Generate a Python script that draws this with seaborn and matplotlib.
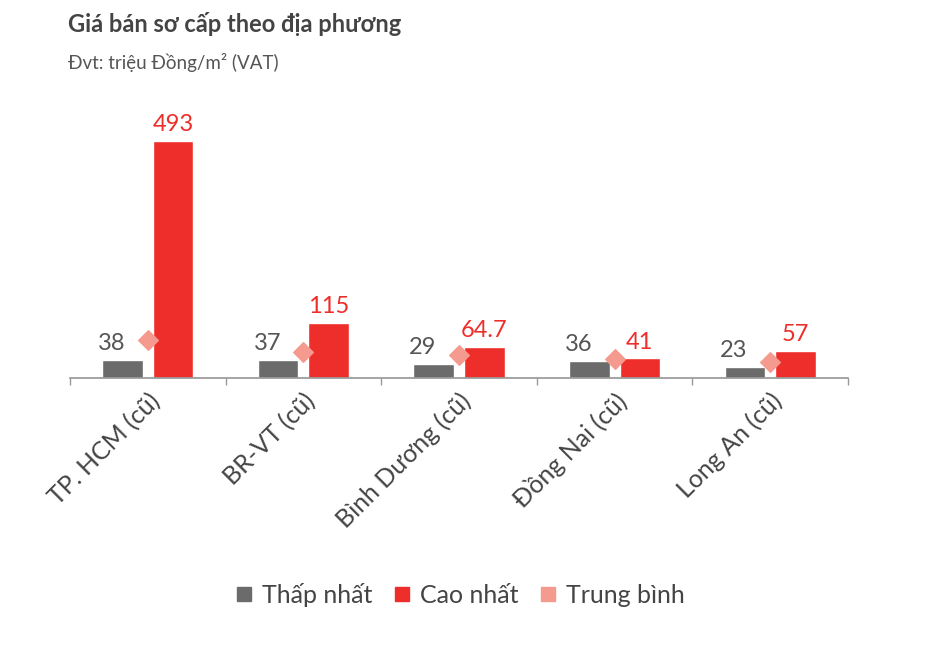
import matplotlib
matplotlib.use("Agg")
import matplotlib.pyplot as plt
import seaborn as sns
import pandas as pd
import numpy as np
from matplotlib.lines import Line2D

categories = ["TP. HCM (cũ)", "BR-VT (cũ)", "Bình Dương (cũ)", "Đồng Nai (cũ)", "Long An (cũ)"]
thap_nhat = [38, 37, 29, 36, 23]
cao_nhat = [493, 115, 64.7, 41, 57]
trung_binh = [79, 54, 48, 40, 33]
cao_labels = ["493", "115", "64.7", "41", "57"]

sns.set_theme(style="white")
plt.rcParams['font.family'] = ['Lato', 'DejaVu Sans']

GRAY = "#6b6b6b"
RED = "#ee2e2a"
PINK = "#f59a8e"

df = pd.DataFrame({
    "cat": categories * 2,
    "val": thap_nhat + cao_nhat,
    "series": ["Thấp nhất"] * 5 + ["Cao nhất"] * 5,
})

fig = plt.figure(figsize=(9.4, 6.48), dpi=100)
ax = fig.add_axes([70/940, 1 - 378/648, 778/940, 278/648])
sns.barplot(data=df, x="cat", y="val", hue="series", palette=[GRAY, RED],
            width=0.65, gap=0.2, ax=ax, legend=False, saturation=1)
ax.scatter(range(5), trung_binh, marker="D", s=100, color=PINK, zorder=5)

for i in range(5):
    ax.text(i - 0.1625 - 0.07, thap_nhat[i] + 12, str(thap_nhat[i]), ha="center",
            va="bottom", fontsize=17, color="#555555")
    ax.text(i + 0.1625, cao_nhat[i] + 12, cao_labels[i], ha="center",
            va="bottom", fontsize=17, color=RED)

ax.set_xlim(-0.5, 4.5)
ax.set_ylim(0, 578)
ax.set_xlabel("")
ax.set_ylabel("")
ax.set_yticks([])
for s in ["top", "right", "left"]:
    ax.spines[s].set_visible(False)
ax.spines["bottom"].set_color("#999999")
ax.tick_params(axis="x", bottom=True, length=0, pad=8)
ax.set_xticks(np.arange(-0.5, 5, 1), minor=True)
ax.tick_params(axis="x", which="minor", bottom=True, length=5, color="#999999")
ax.set_xticklabels(categories, rotation=45, ha="right", rotation_mode="anchor",
                   fontsize=18, color="#444444")

fig.text(68/940, 1 - 24/648, "Giá bán sơ cấp theo địa phương", fontsize=17,
         fontweight="bold", color="#444444", va="center")
fig.text(68/940, 1 - 62/648, "Đvt: triệu Đồng/m² (VAT)", fontsize=13.5,
         color="#555555", va="center")

handles = [Line2D([], [], marker="s", ls="", color=GRAY, markersize=10),
           Line2D([], [], marker="s", ls="", color=RED, markersize=10),
           Line2D([], [], marker="s", ls="", color=PINK, markersize=10)]
fig.legend(handles, ["Thấp nhất", "Cao nhất", "Trung bình"], loc="center",
           bbox_to_anchor=(457/940, 1 - 595/648), ncol=3, frameon=False,
           fontsize=18, handletextpad=0.1, columnspacing=0.6, handlelength=1.2,
           labelcolor="#444444")

fig.savefig("out.png", dpi=100)
